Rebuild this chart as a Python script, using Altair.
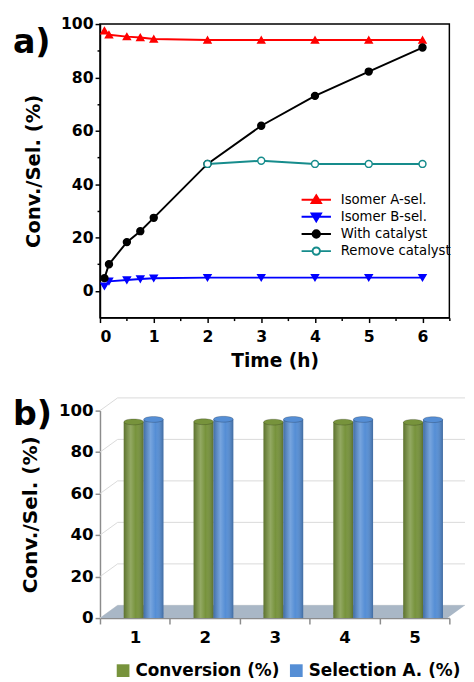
import altair as alt
import pandas as pd

# ---------------- data: panel a ----------------
time_pts = [0.083, 0.167, 0.5, 0.75, 1, 2, 3, 4, 5, 6]
isomer_a = [97.5, 96.0, 95.3, 95.0, 94.4, 94.0, 94.0, 94.0, 94.0, 94.0]
isomer_b = [1.8, 3.6, 4.1, 4.5, 4.8, 5.0, 5.0, 5.0, 5.0, 5.0]
with_cat = [4.8, 10.0, 18.3, 22.4, 27.4, 47.6, 61.9, 73.1, 82.2, 91.2]
remove_time = [2, 3, 4, 5, 6]
remove_cat = [47.6, 48.8, 47.6, 47.6, 47.6]

series_names = ["Isomer A-sel.", "Isomer B-sel.", "With catalyst", "Remove catalyst"]
line_colors = ["#ff0000", "#0000ff", "#000000", "#168c8c"]
marker_fills = ["#ff0000", "#0000ff", "#000000", "#ffffff"]
marker_shapes = ["triangle-up", "triangle-down", "circle", "circle"]
# legend glyphs: a line with the series marker on it
legend_glyphs = [
    "M-1,0 H1 M0,-0.3 L0.32,0.23 L-0.32,0.23 Z",
    "M-1,0 H1 M0,0.3 L0.32,-0.23 L-0.32,-0.23 Z",
    "M-1,0 H1 M0.25,0 A0.25,0.25 0 1,1 -0.25,0 A0.25,0.25 0 1,1 0.25,0 Z",
    "M-1,0 H-0.25 M0.25,0 H1 M0.25,0 A0.25,0.25 0 1,1 -0.25,0 A0.25,0.25 0 1,1 0.25,0 Z",
]
x_ticks_a = [0, 0.5, 1, 1.5, 2, 2.5, 3, 3.5, 4, 4.5, 5, 5.5, 6, 6.5]
y_ticks_a = [0, 10, 20, 30, 40, 50, 60, 70, 80, 90, 100]

# ---------------- data: panel b ----------------
runs = ["1", "2", "3", "4", "5"]
conversion = [92.2, 92.3, 92.1, 92.1, 92.0]
selection = [93.4, 93.5, 93.4, 93.4, 93.3]
bar_series = ["Conversion (%)", "Selection A. (%)"]
bar_colors = ["#77933c", "#558ed5"]
y_ticks_b = [0, 20, 40, 60, 80, 100]
panel_labels = ["a)", "b)"]

FONT = "DejaVu Sans"

rows = []
for i, vals in enumerate([isomer_a, isomer_b, with_cat]):
    for t, v in zip(time_pts, vals):
        rows.append({"t": t, "v": v, "s": series_names[i]})
for t, v in zip(remove_time, remove_cat):
    rows.append({"t": t, "v": v, "s": series_names[3]})
df_a = pd.DataFrame(rows)

x_a = alt.X("t:Q", scale=alt.Scale(domain=[0, 6.5], nice=False, zero=False),
            axis=alt.Axis(values=x_ticks_a, title="Time (h)",
                          labelExpr="datum.value % 1 === 0 ? format(datum.value, 'd') : ''",
                          tickSize={"condition": {"test": "datum.value % 1 !== 0", "value": 3}, "value": 5},
                          grid=False, labelPadding=6, titlePadding=8, titleFontSize=19))
y_a = alt.Y("v:Q", scale=alt.Scale(domain=[-10, 100], nice=False, zero=False),
            axis=alt.Axis(values=y_ticks_a, title="Conv./Sel. (%)",
                          labelExpr="datum.value % 20 === 0 ? format(datum.value, 'd') : ''",
                          tickSize={"condition": {"test": "datum.value % 20 !== 0", "value": 3}, "value": 5},
                          grid=False, titlePadding=17, titleFontSize=20))

lines = alt.Chart(df_a).mark_line(strokeWidth=2).encode(
    x=x_a, y=y_a,
    color=alt.Color("s:N", scale=alt.Scale(domain=series_names, range=line_colors), legend=None),
)

points = alt.Chart(df_a).mark_point(filled=True, size=50, strokeWidth=1.5, opacity=1).encode(
    x=x_a, y=y_a,
    shape=alt.Shape("s:N", scale=alt.Scale(domain=series_names, range=marker_shapes), legend=None),
    fill=alt.Fill("s:N", scale=alt.Scale(domain=series_names, range=marker_fills), legend=None),
    stroke=alt.Stroke("s:N", scale=alt.Scale(domain=series_names, range=line_colors), legend=None),
)

lg = dict(orient="none", legendX=205, legendY=173, title=None,
          symbolSize=900, symbolStrokeWidth=2, symbolOpacity=1, clipHeight=13,
          labelFont=FONT, labelFontSize=13.5, labelOffset=9,
          rowPadding=3.5, padding=0, direction="vertical")
legend_layer = alt.Chart(df_a).transform_filter("false").mark_point(
    filled=True, strokeWidth=2, opacity=1).encode(
    x=x_a, y=y_a,
    shape=alt.Shape("s:N", scale=alt.Scale(domain=series_names, range=legend_glyphs), legend=alt.Legend(**lg)),
    fill=alt.Fill("s:N", scale=alt.Scale(domain=series_names, range=marker_fills), legend=alt.Legend(**lg)),
    stroke=alt.Stroke("s:N", scale=alt.Scale(domain=series_names, range=line_colors), legend=alt.Legend(**lg)),
)

lab_a = alt.Chart(pd.DataFrame({"label": [panel_labels[0]]})).mark_text(
    align="left", baseline="alphabetic", fontSize=34, fontWeight="bold", font=FONT
).encode(x=alt.value(-89), y=alt.value(30), text="label:N")

panel_a = alt.layer(lines, points, legend_layer, lab_a).resolve_scale(
    shape="independent", fill="independent", stroke="independent"
).resolve_legend(shape="independent", fill="independent", stroke="independent").properties(
    width=357, height=300,
    view=alt.ViewBackground(stroke="black", strokeWidth=1.5),
)

# ---------------- panel b ----------------
brows = []
for r, c, s in zip(runs, conversion, selection):
    brows.append({"run": r, "series": bar_series[0], "value": c})
    brows.append({"run": r, "series": bar_series[1], "value": s})
df_b = pd.DataFrame(brows)

y_scale_b = alt.Scale(domain=[0, 100], nice=False)
grid_df = pd.DataFrame({"value": y_ticks_b})

grid_back = alt.Chart(grid_df).mark_rule(color="#d9d9d9", strokeWidth=1, yOffset=-13).encode(
    x=alt.value(18), x2=alt.value(373), y=alt.Y("value:Q", scale=y_scale_b))
grid_diag = alt.Chart(grid_df).mark_rule(color="#d9d9d9", strokeWidth=1, y2Offset=-13).encode(
    x=alt.value(0), x2=alt.value(18), y=alt.Y("value:Q", scale=y_scale_b), y2=alt.Y2("value:Q"))

floor_path = "M-1,0.0349 L0.9035,0.0349 L1,-0.0349 L-0.9035,-0.0349 Z"
floor = alt.Chart(pd.DataFrame({"value": [0]})).mark_point(
    shape=floor_path, size=139129, filled=True, fill="#a9b7c6", strokeWidth=0, opacity=1, yOffset=-6.5
).encode(x=alt.value(186.5), y=alt.Y("value:Q", scale=y_scale_b))

x_b = alt.X("run:N", scale=alt.Scale(paddingInner=0, paddingOuter=0),
            axis=alt.Axis(title=None, labelAngle=0, tickBand="extent", domainColor="#8c8c8c",
                          tickColor="#8c8c8c", tickSize=6, labelPadding=6, labelFontSize=17))
xo_b = alt.XOffset("series:N", scale=alt.Scale(domain=bar_series, paddingInner=0,
                                               paddingOuter=0.76, align=0.787))
y_b = alt.Y("value:Q", scale=y_scale_b, stack=None,
            axis=alt.Axis(values=y_ticks_b, title="Conv./Sel. (%)", grid=False,
                          domainColor="#8c8c8c", tickColor="#8c8c8c", tickSize=5,
                          labelFontSize=17, titlePadding=18, titleFontSize=20.5))
bar_legend = alt.Legend(orient="none", legendX=15, legendY=257, direction="horizontal", title=None,
                        symbolType="square", symbolSize=169, symbolStrokeWidth=0,
                        labelFont=FONT, labelFontSize=17.2, labelFontWeight="bold",
                        columnPadding=8, labelOffset=4, padding=0)
col_b = alt.Color("series:N", scale=alt.Scale(domain=bar_series, range=bar_colors), legend=bar_legend)

ellipse = "M-1,0 A1,0.3 0 1,1 1,0 A1,0.3 0 1,1 -1,0 Z"
caps_bottom = alt.Chart(df_b).mark_point(shape=ellipse, size=400, filled=True, opacity=1,
                                         yOffset=-5, strokeWidth=0).encode(
    x=x_b, xOffset=xo_b, y=alt.datum(0, scale=y_scale_b), color=col_b)
bars = alt.Chart(df_b).mark_bar(yOffset=-5, y2Offset=-5).encode(
    x=x_b, xOffset=xo_b, y=y_b, color=col_b)
shade = alt.Chart(df_b).mark_bar(
    yOffset=-5, y2Offset=-5,
    fill=alt.Gradient(gradient="linear", x1=0, x2=1, y1=0, y2=0, stops=[
        alt.GradientStop(color="rgba(0,0,0,0.22)", offset=0),
        alt.GradientStop(color="rgba(255,255,255,0.2)", offset=0.35),
        alt.GradientStop(color="rgba(255,255,255,0)", offset=0.6),
        alt.GradientStop(color="rgba(0,0,0,0.25)", offset=1)])
).encode(x=x_b, xOffset=xo_b, y=y_b)
caps_top = alt.Chart(df_b).mark_point(shape=ellipse, size=400, filled=True, opacity=1,
                                      yOffset=-5, stroke="rgba(0,0,0,0.25)",
                                      strokeWidth=0.8).encode(
    x=x_b, xOffset=xo_b, y=y_b, color=col_b)

lab_b = alt.Chart(pd.DataFrame({"label": [panel_labels[1]]})).mark_text(
    align="left", baseline="alphabetic", fontSize=34, fontWeight="bold", font=FONT
).encode(x=alt.value(-89), y=alt.value(15), text="label:N")

panel_b = alt.layer(grid_back, grid_diag, floor, caps_bottom, bars, shade, caps_top, lab_b).properties(
    width=357, height=212)

chart = alt.vconcat(panel_a, panel_b, spacing=26).resolve_scale(
    x="independent", y="independent", color="independent", shape="independent",
    fill="independent", stroke="independent"
).resolve_legend(
    color="independent", shape="independent", fill="independent", stroke="independent"
).properties(
    padding={"left": 4, "top": 0, "right": 0, "bottom": 0}
).configure_view(stroke="transparent").configure_axis(
    labelFont=FONT, labelFontWeight="bold", labelFontSize=16, labelColor="black",
    titleFont=FONT, titleFontWeight="bold", titleFontSize=19, titleColor="black",
    domainColor="black", domainWidth=1.5, tickColor="black", tickWidth=1.5,
).configure_legend(labelColor="black")

chart.save("out.html", embed_options={"renderer": "svg", "actions": False})
